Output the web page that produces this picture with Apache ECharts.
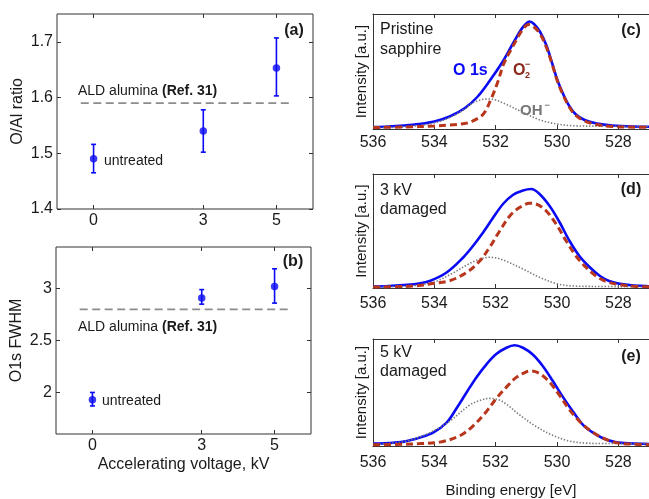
<!DOCTYPE html>
<html><head><meta charset="utf-8">
<script src="https://cdn.jsdelivr.net/npm/echarts@6/dist/echarts.min.js"></script>
<style>html,body{margin:0;padding:0;background:#fff}#c{width:649px;height:499px}</style>
</head><body><div id="c"></div>
<script>
// ---------- data ----------
const voltages = [0, 3, 5];
const voltageTicks = [0, 3, 5];
const ratioOAl = [1.49, 1.54, 1.653];
const ratioLow = [1.465, 1.502, 1.603];
const ratioHigh = [1.516, 1.578, 1.707];
const ratioTicks = [1.4, 1.5, 1.6, 1.7];
const fwhmO1s = [1.93, 2.91, 3.02];
const fwhmLow = [1.87, 2.85, 2.86];
const fwhmHigh = [2.0, 2.99, 3.19];
const fwhmTicks = [2, 2.5, 3];
const aldRatio = 1.59;
const aldFwhm = 2.8;
const aldSpan = [-0.35, 5.42];
const energyTicks = [536, 534, 532, 530, 528];

// Panel (c) pristine sapphire: [binding energy eV, intensity a.u.]
const o1sC = [[536,2],[535.5,2.5],[535,3.5],[534.5,5],[534,7.5],[533.5,12.5],[533,21],[532.6,32],[532.2,48],[531.8,66],[531.5,82],[531.2,98],[531.05,104],[530.9,107.5],[530.75,105],[530.55,97],[530.35,84],[530.15,65],[530,50],[529.8,35],[529.6,23],[529.4,15],[529.1,9],[528.7,5.5],[528.2,3.5],[527.5,2.5],[526.5,2]];
const o2C = [[536,1.5],[535,2],[534,3],[533.5,4],[533,5.5],[532.75,8],[532.4,15],[532.15,30],[531.92,48],[531.74,65],[531.45,82],[531.15,98],[530.93,104.5],[530.75,102],[530.55,95],[530.35,82],[530.15,64],[530,49],[529.8,34],[529.6,22],[529.4,14],[529.1,8],[528.7,4.5],[528.2,2.5],[527.5,1.8],[526.5,1.5]];
const ohC = [[536,1],[535,2],[534.5,3.5],[534,6],[533.5,11.5],[533,20],[532.8,25],[532.5,29],[532.25,30],[532,29],[531.65,24.5],[531.1,16.5],[530.55,9],[530,5],[529.5,3.3],[528.5,2.8],[527,2.5],[526.5,2.5]];
// Panel (d) 3 kV damaged
const o1sD = [[536,1.5],[535.5,2],[535,3],[534.5,4.5],[534.15,7],[533.6,15.5],[533.06,30.5],[532.74,42],[532.41,55.5],[532.09,70],[531.76,84],[531.44,93],[531.11,97.5],[530.84,99],[530.57,94],[530.24,82],[529.92,66],[529.59,47],[529.27,32],[528.94,21],[528.6,12],[528.3,7],[528,4.5],[527.5,2.5],[527,1.8],[526.5,1.5]];
const o2D = [[536,1],[535,1.5],[534.5,2.5],[534.15,4],[533.5,7.3],[532.95,15.5],[532.52,27],[532.2,40.5],[531.87,57],[531.54,72],[531.22,80.5],[530.89,84.7],[530.68,84],[530.35,77],[530.03,64],[529.7,47],[529.38,32],[529.05,20.5],[528.73,12],[528.4,6.5],[528,3.5],[527.5,1.8],[527,1.2],[526.5,1]];
const ohD = [[536,1],[535,1.5],[534.5,3],[534,6],[533.39,15],[532.85,24.5],[532.5,29],[532.2,30.7],[531.9,29.5],[531.65,26.7],[531.11,19],[530.57,10.7],[530.03,4.5],[529.49,2],[528.5,1.5],[527,1.3],[526.5,1.3]];
// Panel (e) 5 kV damaged
const o1sE = [[536,2.5],[535.5,3],[535,4.5],[534.47,8.8],[534.04,13.8],[533.6,24],[533.28,38.5],[532.95,55],[532.63,70.5],[532.3,84],[531.98,94.5],[531.65,101],[531.38,103.5],[531.11,101],[530.79,94],[530.46,82],[530.14,67],[529.81,50.5],[529.48,35.5],[529.16,22],[528.84,14],[528.5,8],[528.1,4],[527.5,2.5],[527,2],[526.5,2]];
const o2E = [[536,1.2],[535,1.8],[534.47,2.5],[533.82,4],[533.17,10.5],[532.74,20.5],[532.3,35.5],[531.98,48.8],[531.65,60.5],[531.33,70.5],[531,76.2],[530.84,77.2],[530.57,74.5],[530.24,65.5],[529.92,52.2],[529.59,37.2],[529.27,25.5],[528.94,16.5],[528.62,10],[528.3,5.5],[528,3],[527.5,1.8],[527,1.3],[526.5,1.2]];
const ohE = [[536,1.5],[535.5,2.5],[535,4.5],[534.5,9],[534,16],[533.5,25.5],[532.85,42],[532.5,47],[532.2,49],[531.9,47.5],[531.65,43],[531.22,32],[530.68,20],[530.14,11],[529.59,5],[529.05,3],[528.5,2.5],[527.5,2.5],[526.5,2.5]];

// ---------- styles ----------
const FONT = "'Liberation Sans', Arial, Helvetica, sans-serif";
const TXT = '#1a1a1a';
const BLUE = '#0a0af5';
const RED = '#b8361c';
const GREY = '#7a7a7a';
const BORDER = '#333';

const chart = echarts.init(document.getElementById('c'), null, {renderer: 'canvas'});

const grids = [
  {left: 57, top: 14, width: 256, height: 195, show: true},
  {left: 56, top: 247, width: 255, height: 187, show: true},
  {left: 373, top: 14, width: 276, height: 115, show: false},
  {left: 373, top: 174, width: 276, height: 114, show: false},
  {left: 373, top: 339, width: 276, height: 110, show: false}
].map(g => Object.assign({borderColor: BORDER, borderWidth: 1, backgroundColor: 'transparent'}, g));

function tick(values) {
  return {show: true, inside: true, length: 4, customValues: values, lineStyle: {color: BORDER, width: 1}};
}
function lbl(values, margin) {
  return {show: true, customValues: values, margin: margin, fontSize: 16, color: TXT, fontFamily: FONT};
}
const noLine = {show: false, onZero: false};
const boxLine = {show: true, onZero: false, lineStyle: {color: BORDER, width: 1}};
const noSplit = {show: false};

const xAxes = [
  // (a)
  {gridIndex: 0, type: 'value', min: -1, max: 6, axisLine: noLine, splitLine: noSplit, axisTick: tick(voltageTicks), axisLabel: lbl(voltageTicks, 4)},
  {gridIndex: 0, type: 'value', position: 'top', min: -1, max: 6, axisLine: noLine, splitLine: noSplit, axisTick: tick(voltageTicks), axisLabel: {show: false}},
  // (b)
  {gridIndex: 1, type: 'value', min: -1, max: 6, axisLine: noLine, splitLine: noSplit, axisTick: tick(voltageTicks), axisLabel: lbl(voltageTicks, 4),
   name: 'Accelerating voltage, kV', nameLocation: 'middle', nameGap: 23, nameTextStyle: {fontSize: 16, color: TXT, fontFamily: FONT}},
  {gridIndex: 1, type: 'value', position: 'top', min: -1, max: 6, axisLine: noLine, splitLine: noSplit, axisTick: tick(voltageTicks), axisLabel: {show: false}}
];
const specMargins = [6, 8, 9];
for (let i = 0; i < 3; i++) {
  const bottom = {gridIndex: 2 + i, type: 'value', min: 527, max: 536, inverse: true, axisLine: boxLine, splitLine: noSplit,
    axisTick: tick(energyTicks), axisLabel: lbl(energyTicks, specMargins[i])};
  if (i === 2) {
    Object.assign(bottom, {name: 'Binding energy [eV]', nameLocation: 'middle', nameGap: 37, nameTextStyle: {fontSize: 15, color: TXT, fontFamily: FONT}});
  }
  xAxes.push(bottom);
  xAxes.push({gridIndex: 2 + i, type: 'value', position: 'top', min: 527, max: 536, inverse: true, axisLine: boxLine, splitLine: noSplit,
    axisTick: tick(energyTicks), axisLabel: {show: false}});
}

const yAxes = [
  {gridIndex: 0, type: 'value', min: 1.4, max: 1.75, axisLine: noLine, splitLine: noSplit, axisTick: tick(ratioTicks), axisLabel: lbl(ratioTicks, 4),
   name: 'O/Al ratio', nameLocation: 'middle', nameGap: 31, nameTextStyle: {fontSize: 16, color: TXT, fontFamily: FONT}},
  {gridIndex: 0, type: 'value', position: 'right', min: 1.4, max: 1.75, axisLine: noLine, splitLine: noSplit, axisTick: tick(ratioTicks), axisLabel: {show: false}},
  {gridIndex: 1, type: 'value', min: 1.6, max: 3.4, axisLine: noLine, splitLine: noSplit, axisTick: tick(fwhmTicks), axisLabel: lbl(fwhmTicks, 4),
   name: 'O1s FWHM', nameLocation: 'middle', nameGap: 31, nameTextStyle: {fontSize: 16, color: TXT, fontFamily: FONT}},
  {gridIndex: 1, type: 'value', position: 'right', min: 1.6, max: 3.4, axisLine: noLine, splitLine: noSplit, axisTick: tick(fwhmTicks), axisLabel: {show: false}}
];
const specMax = [115, 114, 110];
for (let i = 0; i < 3; i++) {
  yAxes.push({gridIndex: 2 + i, type: 'value', min: 0, max: specMax[i], axisLine: boxLine, splitLine: noSplit, axisTick: {show: false}, axisLabel: {show: false},
    name: 'Intensity [a.u.]', nameLocation: 'middle', nameGap: 4, nameTextStyle: {fontSize: 15, color: TXT, fontFamily: FONT}});
}

function errorBars(xi, yi, xs, lo, hi) {
  return {
    type: 'custom', xAxisIndex: xi, yAxisIndex: yi, z: 3,
    data: xs.map((v, i) => [v, lo[i], hi[i]]),
    encode: {x: 0, y: [1, 2]},
    renderItem: function (params, api) {
      const x = api.value(0);
      const a = api.coord([x, api.value(1)]);
      const b = api.coord([x, api.value(2)]);
      const w = 2.5;
      const st = {stroke: BLUE, lineWidth: 1.6};
      return {type: 'group', children: [
        {type: 'line', shape: {x1: a[0], y1: a[1], x2: b[0], y2: b[1]}, style: st},
        {type: 'line', shape: {x1: a[0] - w, y1: a[1], x2: a[0] + w, y2: a[1]}, style: st},
        {type: 'line', shape: {x1: b[0] - w, y1: b[1], x2: b[0] + w, y2: b[1]}, style: st}
      ]};
    }
  };
}
function points(xi, yi, xs, ys) {
  return {type: 'scatter', xAxisIndex: xi, yAxisIndex: yi, z: 4, symbol: 'circle', symbolSize: 7.5,
    itemStyle: {color: BLUE}, data: xs.map((v, i) => [v, ys[i]])};
}
function refLine(xi, yi, yv) {
  return {type: 'line', xAxisIndex: xi, yAxisIndex: yi, z: 2, showSymbol: false, symbol: 'none',
    lineStyle: {color: '#8c8c8c', width: 1.8, type: [8, 4.5]}, data: aldSpan.map(x => [x, yv])};
}
function spec(xi, yi, data, kind) {
  const styles = {
    total: {color: BLUE, width: 2.6, type: 'solid'},
    o2: {color: RED, width: 3, type: [7, 4]},
    oh: {color: GREY, width: 1.6, type: [1.4, 1.8]}
  };
  return {type: 'line', xAxisIndex: xi, yAxisIndex: yi, showSymbol: false, symbol: 'none', smooth: 0.35,
    z: kind === 'total' ? 2 : (kind === 'oh' ? 3 : 4), lineStyle: styles[kind], data: data};
}

const series = [
  refLine(0, 0, aldRatio), errorBars(0, 0, voltages, ratioLow, ratioHigh), points(0, 0, voltages, ratioOAl),
  refLine(2, 2, aldFwhm), errorBars(2, 2, voltages, fwhmLow, fwhmHigh), points(2, 2, voltages, fwhmO1s),
  spec(4, 4, o1sC, 'total'), spec(4, 4, ohC, 'oh'), spec(4, 4, o2C, 'o2'),
  spec(6, 5, o1sD, 'total'), spec(6, 5, ohD, 'oh'), spec(6, 5, o2D, 'o2'),
  spec(8, 6, o1sE, 'total'), spec(8, 6, ohE, 'oh'), spec(8, 6, o2E, 'o2')
];

function t(text, x, y, font, fill, align) {
  return {type: 'text', x: x, y: y, z: 10, silent: true,
    style: {text: text, font: font, fill: fill || TXT, align: align || 'left', verticalAlign: 'middle',
      textAlign: align || 'left', textVerticalAlign: 'middle'}};
}
function rt(text, rich, x, y) {
  return {type: 'text', x: x, y: y, z: 10, silent: true,
    style: {text: text, rich: rich, fill: TXT, align: 'left', verticalAlign: 'middle', textAlign: 'left', textVerticalAlign: 'middle'}};
}
const aldRich = {n: {font: '14px ' + FONT, fill: TXT}, b: {font: 'bold 14px ' + FONT, fill: TXT}};
const O2COL = '#8a2a1c';
const OHCOL = '#777';

const graphics = [
  t('(a)', 294, 31, 'bold 16px ' + FONT, TXT, 'center'),
  rt('{n|ALD alumina }{b|(Ref. 31)}', aldRich, 78, 91),
  t('untreated', 104, 161, '14px ' + FONT),
  t('(b)', 293, 262, 'bold 16px ' + FONT, TXT, 'center'),
  rt('{n|ALD alumina }{b|(Ref. 31)}', aldRich, 78, 327),
  t('untreated', 102, 401, '14px ' + FONT),
  // (c)
  t('Pristine', 380, 30, '16px ' + FONT),
  t('sapphire', 380, 50, '16px ' + FONT),
  t('O 1s', 453, 71, 'bold 16px ' + FONT, BLUE),
  t('O', 513, 71, 'bold 16px ' + FONT, O2COL),
  t('2', 525, 75.5, 'bold 9px ' + FONT, O2COL),
  t('\u2212', 525, 64.5, 'bold 9px ' + FONT, O2COL),
  t('OH', 520, 111, 'bold 15px ' + FONT, OHCOL),
  t('\u2212', 544.5, 105.5, 'bold 9px ' + FONT, OHCOL),
  t('(c)', 631, 31, 'bold 16px ' + FONT, TXT, 'center'),
  // (d)
  t('3 kV', 380, 191, '16px ' + FONT),
  t('damaged', 380, 210, '16px ' + FONT),
  t('(d)', 631, 190, 'bold 16px ' + FONT, TXT, 'center'),
  // (e)
  t('5 kV', 380, 353, '16px ' + FONT),
  t('damaged', 380, 372, '16px ' + FONT),
  t('(e)', 631, 357, 'bold 16px ' + FONT, TXT, 'center')
];

chart.setOption({
  animation: false,
  backgroundColor: '#fff',
  grid: grids,
  xAxis: xAxes,
  yAxis: yAxes,
  series: series,
  graphic: {elements: graphics}
});
</script>
</body></html>
